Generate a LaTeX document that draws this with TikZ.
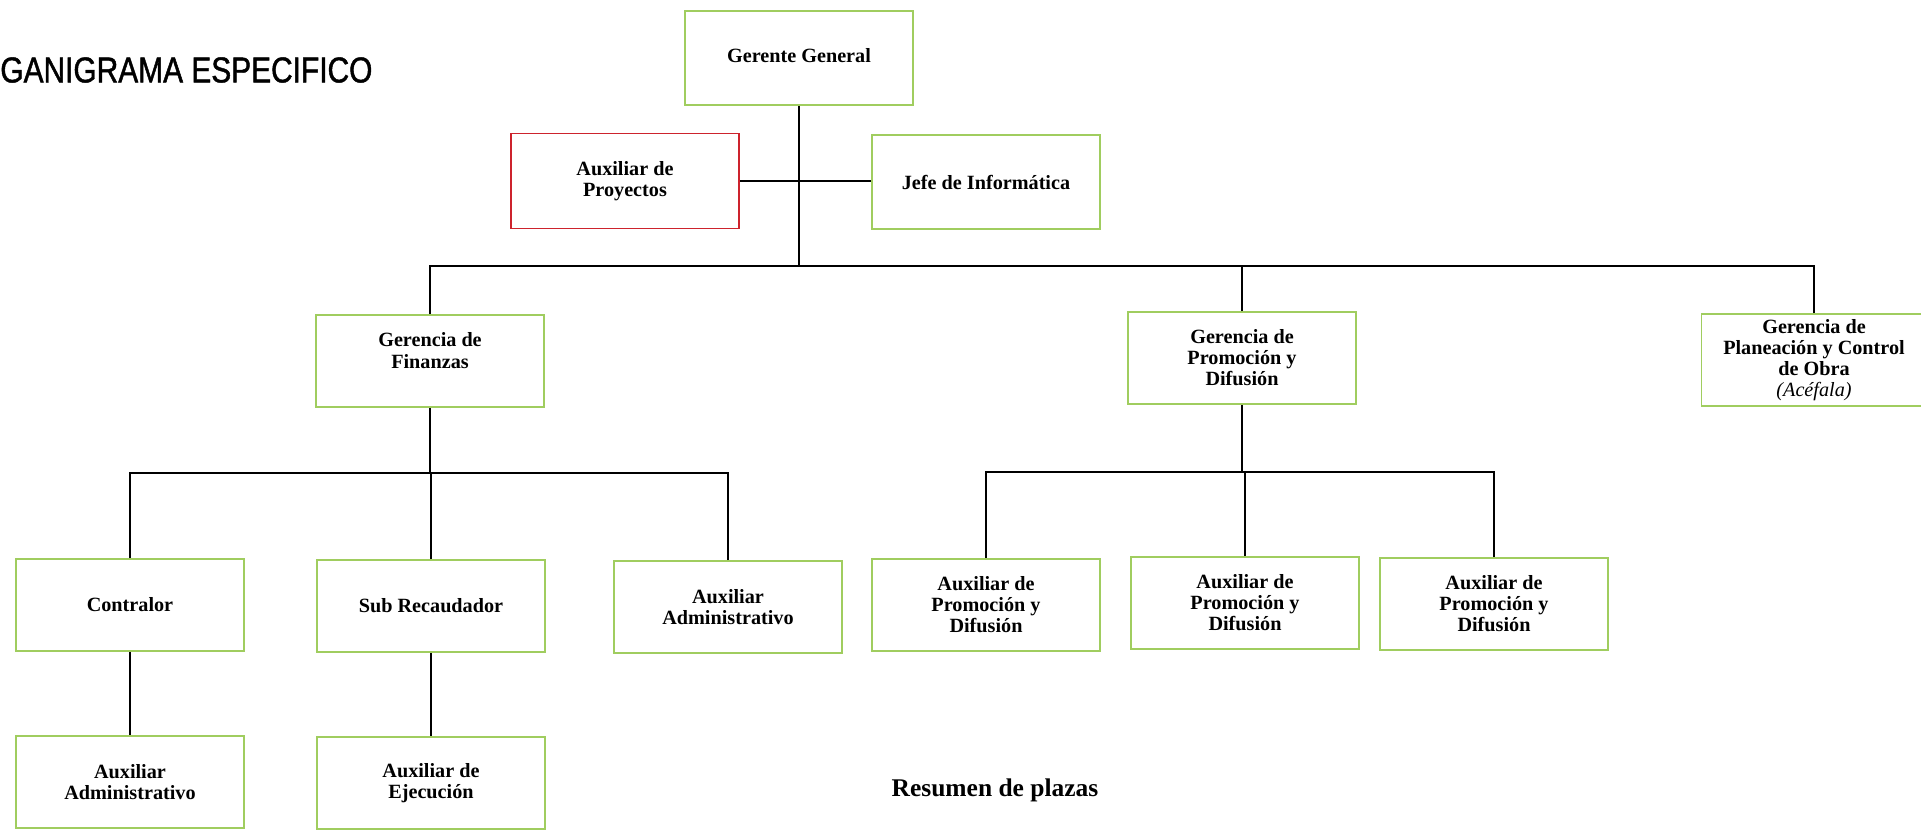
\documentclass[tikz,border=0pt]{standalone}
\usepackage{fontspec}
\setmainfont{Liberation Serif}
\newfontfamily\titlefont[FakeStretch=0.83,FakeBold=1.2]{Liberation Sans}
\usepackage{xcolor}
\definecolor{boxgreen}{RGB}{160,205,95}
\definecolor{boxred}{RGB}{205,35,45}

\begin{document}
\begin{tikzpicture}[x=0.02cm,y=-0.02cm,
  puesto/.style={draw=boxgreen,line width=0.9pt,minimum width=4.56cm,minimum height=1.84cm,
    align=center,inner sep=1pt,font=\fontsize{11.5}{12}\selectfont\bfseries},
  enlace/.style={line width=0.8pt}]

\useasboundingbox (0,0) rectangle (1921,829);

\node[anchor=west,inner sep=0pt,font=\titlefont\fontsize{20.5}{24}\selectfont] (titulo) at (0,70) {GANIGRAMA ESPECIFICO};

\node[puesto,minimum height=1.88cm,text depth=0.12cm] (gerente) at (799,58) {Gerente General};
\node[puesto,draw=boxred,minimum height=1.9cm] (auxproy) at (625,181) {Auxiliar de\\Proyectos};
\node[puesto,minimum height=1.88cm] (jefe) at (986,182) {Jefe de Informática};

\node[puesto,text depth=0.42cm] (finanzas) at (430,361) {Gerencia de\\Finanzas};
\node[puesto] (promocion) at (1242,358) {Gerencia de\\Promoción y\\Difusión};
\node[puesto,minimum width=4.5cm] (planeacion) at (1814,360) {Gerencia de\\Planeación y Control\\de Obra\\{\mdseries\itshape (Acéfala)}};

\node[puesto] (contralor) at (130,605) {Contralor};
\node[puesto] (subrec) at (431,606) {Sub Recaudador};
\node[puesto] (auxadm) at (728,607) {Auxiliar\\Administrativo};
\node[puesto] (auxprom1) at (986,605) {Auxiliar de\\Promoción y\\Difusión};
\node[puesto] (auxprom2) at (1245,603) {Auxiliar de\\Promoción y\\Difusión};
\node[puesto] (auxprom3) at (1494,604) {Auxiliar de\\Promoción y\\Difusión};

\node[puesto] (auxadm2) at (130,782) {Auxiliar\\Administrativo};
\node[puesto] (auxejec) at (431,783) {Auxiliar de\\Ejecución};

\node[font=\fontsize{14.5}{16}\selectfont\bfseries] (resumen) at (995,790) {Resumen de plazas};

\coordinate (busG) at (799,266);
\coordinate (busF) at (430,473);
\coordinate (busP) at (1242,472);

\draw[enlace] (gerente.south) -- (busG);
\draw[enlace] (auxproy.east) -- (jefe.west |- auxproy.east);
\draw[enlace] (finanzas.north) |- (busG);
\draw[enlace] (promocion.north) |- (busG);
\draw[enlace] (planeacion.north) |- (busG);

\draw[enlace] (finanzas.south) -- (busF);
\draw[enlace] (contralor.north) |- (busF);
\draw[enlace] (subrec.north) |- (busF);
\draw[enlace] (auxadm.north) |- (busF);

\draw[enlace] (promocion.south) -- (busP);
\draw[enlace] (auxprom1.north) |- (busP);
\draw[enlace] (auxprom2.north) |- (busP);
\draw[enlace] (auxprom3.north) |- (busP);

\draw[enlace] (contralor.south) -- (auxadm2.north);
\draw[enlace] (subrec.south) -- (auxejec.north);

\end{tikzpicture}
\end{document}
